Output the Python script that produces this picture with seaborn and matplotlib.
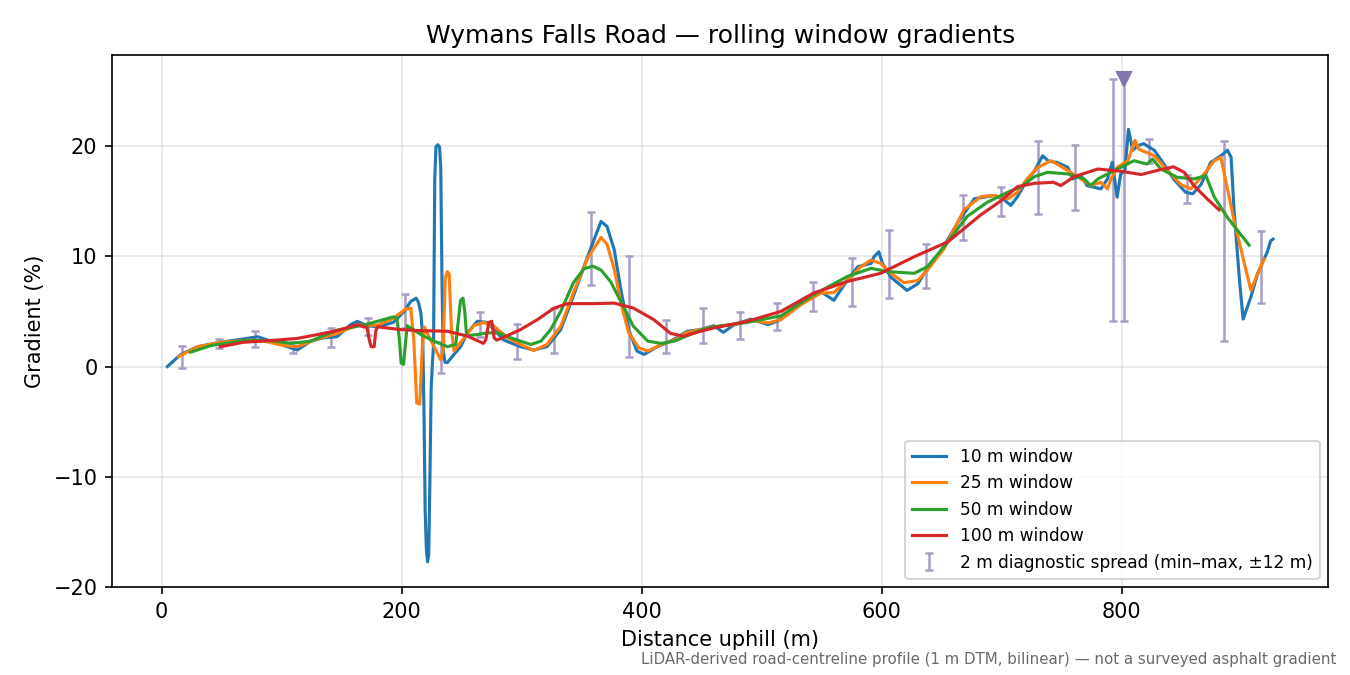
import matplotlib
matplotlib.use("Agg")
import matplotlib.pyplot as plt
import numpy as np
import pandas as pd
import seaborn as sns

# distances (m) and gradients (%)
x10 = [4.7, 16, 30, 49, 68, 80, 91, 102, 113, 124, 135, 146, 157.5, 163, 171, 180, 193, 202, 207.5, 212,
       214, 216, 217.5, 218.5, 219.5, 220.5, 221.5, 222.5, 223.5, 224.5, 225.5, 226.5, 227.5, 228.5, 230,
       231.5, 232.5, 233.5, 234.5, 236, 238, 242, 249, 255, 263, 271, 277, 285, 299, 310, 321, 332.5, 343,
       355, 366, 371, 377, 382.5, 389, 396, 402, 413, 424, 438, 449, 460, 468, 477, 491, 505, 513, 527, 538,
       549, 560, 571, 580, 591, 593.5, 597.5, 600.5, 607.5, 621, 630, 638, 649, 663, 677, 693.5, 702, 707.5,
       713, 721, 727, 734, 739, 746, 755, 759, 766, 771, 782.5, 788, 792, 796, 799, 802.5, 805.5, 809, 813,
       818, 827, 835, 843, 853, 859, 866, 874, 882.5, 888, 891, 893.5, 898, 901, 907.5, 913, 921, 924, 926]
g10 = [0.0, 1.1, 1.8, 2.2, 2.5, 2.7, 2.3, 1.9, 1.5, 2.3, 2.6, 2.7, 3.8, 4.1, 3.7, 3.6, 4.0, 5.0, 5.9, 6.2,
       5.8, 4.8, 2.5, -4.0, -13.0, -16.5, -17.7, -17.0, -10.0, -2.0, 0.2, 2.0, 17.0, 19.9, 20.1,
       19.9, 18.0, 8.0, 1.5, 0.4, 0.35, 0.9, 1.8, 3.1, 4.1, 4.0, 3.35, 2.4, 1.8, 1.5, 1.8, 3.35, 6.4,
       10.0, 13.15, 12.7, 10.6, 7.0, 3.35, 1.4, 1.1, 1.8, 2.3, 3.2, 3.35, 3.7, 3.1, 3.8, 4.3, 3.8, 4.1, 5.3, 6.1,
       6.8, 6.0, 7.8, 9.05, 9.35, 9.95, 10.4, 9.35, 8.1, 6.9, 7.5, 8.9, 10.4, 13.0, 15.2, 15.5, 15.1, 14.6,
       15.4, 16.9, 17.7, 19.1, 18.6, 18.5, 18.05, 17.0, 17.3, 16.4, 16.1, 17.0, 18.5, 15.35, 17.45, 17.75, 21.5, 19.6, 20.0,
       20.2, 19.6, 18.35, 17.0, 15.8, 15.65, 16.5, 18.5, 19.1, 19.6, 18.95, 14.1, 7.8, 4.3, 6.3, 8.4, 10.35, 11.4, 11.55]

x25 = [14, 30, 49, 74, 85, 102, 113, 127, 146, 163, 180, 193.5, 203, 207.5, 210, 212.5, 215, 217, 218.6,
       225, 232.5, 234.5, 236.2, 238, 239.5, 241.4, 243.6, 252, 260, 268, 277, 288, 299, 310, 321, 332.5,
       343, 355, 366, 371, 377, 382.5, 389, 397.5, 405, 416, 427, 438, 449, 460, 477, 491, 505, 516, 532.5,
       549, 560, 571, 582.5, 591, 599, 607.5, 618.5, 630, 638, 652, 668.5, 682.5, 693.5, 705, 713, 721, 730,
       741, 746, 755, 766, 774, 782.5, 788, 791, 796, 805, 811, 814, 827, 838, 849, 857.5, 868.5, 877, 882.5,
       893.5, 907.5, 913, 918.5]
g25 = [0.9, 1.8, 2.2, 2.4, 2.3, 1.9, 1.8, 2.4, 3.0, 3.75, 3.75, 4.4, 5.2, 5.3, 2.5, -3.3, -3.4, 1.5, 3.6,
       2.2, 0.6, 1.5, 8.0, 8.6, 8.4, 3.35, 1.4, 2.6, 3.7, 4.0, 3.65, 2.6, 2.0, 1.45, 2.0, 3.65,
       6.7, 9.85, 11.7, 11.1, 8.85, 5.8, 3.1, 1.7, 1.4, 2.0, 2.4, 3.1, 3.35, 3.6, 3.8, 4.2, 3.95, 4.25, 5.6,
       6.65, 6.7, 7.8, 9.05, 9.65, 9.35, 8.45, 7.6, 7.8, 8.75, 10.7, 14.2, 15.4, 15.5, 15.2, 15.8, 17.0, 18.05,
       18.65, 18.35, 17.75, 17.0, 16.4, 16.7, 16.1, 17.0, 18.05, 18.65, 20.5, 19.7, 19.1, 17.75, 16.5, 16.1, 17.45, 18.65, 18.95,
       13.2, 6.9, 8.4, 9.75]

x50 = [24, 41, 68, 91, 107.5, 124, 146, 168, 193, 196, 198, 199.5, 201.5, 203, 204.5, 216, 227, 238, 245,
       247.5, 249, 251, 252.5, 254, 263, 271, 280, 288, 299, 307.5, 316, 324, 332.5, 343, 351.7, 359, 366,
       374, 382.5, 393, 405, 416, 427, 438, 449, 460, 488, 516, 543, 571, 591, 605, 627, 638, 655, 671, 688,
       705, 716, 727, 738, 755, 768.5, 774, 780, 793.5, 810, 821, 825.5, 832.5, 846, 860, 870, 877, 888, 906]
g50 = [1.3, 1.9, 2.35, 2.35, 2.1, 2.3, 3.3, 3.75, 4.5, 4.4, 2.5, 0.3, 0.2, 2.0, 3.7, 2.9, 2.3, 1.8, 2.0,
       4.5, 6.0, 6.2, 5.0, 2.8, 2.9, 3.05, 3.05, 2.7, 2.3, 2.0, 2.3, 3.35, 5.0, 7.6, 8.85, 9.1, 8.75,
       7.7, 5.9, 3.65, 2.3, 2.1, 2.3, 2.8, 3.3, 3.6, 4.0, 4.6, 6.5, 8.15, 8.9, 8.6, 8.45, 9.05, 11.3, 13.6, 14.9,
       15.8, 16.3, 17.2, 17.6, 17.45, 17.0, 16.4, 17.0, 17.75, 18.65, 18.35, 18.8, 17.9, 17.15, 17.0, 17.3, 15.35, 13.5, 11.0]

x100 = [49, 68, 96, 113, 130, 146, 163, 168, 171, 173, 174.5, 177, 178.5, 180, 199, 216, 238, 255, 268,
        270, 272.5, 275, 277, 279, 283, 299, 313, 327, 338, 360, 377, 393, 410, 424, 435, 449, 460, 488, 516,
        543, 571, 599, 627, 655, 682.5, 699, 713, 727, 743, 749, 752, 760, 780, 799, 816, 832.5, 843, 852,
        860, 871, 881]
g100 = [1.8, 2.2, 2.4, 2.55, 2.9, 3.25, 3.8, 3.6, 3.55, 2.4, 1.8, 1.8, 3.3, 3.6, 3.35, 3.25, 3.2, 2.75, 2.1,
        2.4, 4.0, 4.1, 2.6, 2.4, 2.55, 3.35, 4.25, 5.3, 5.7, 5.7, 5.75, 5.3, 4.25, 3.0, 2.75, 3.2, 3.5, 4.1, 5.0,
        6.65, 7.7, 8.45, 9.95, 11.3, 13.75, 15.0, 16.3, 16.6, 16.7, 16.4, 16.6, 17.2, 17.9, 17.7, 17.4, 17.85, 18.1, 17.6,
        16.4, 15.2, 14.2]

# 2 m diagnostic spread: min and max within +-12 m
spread_x = [16.7, 47.5, 78, 109, 141, 172, 202.5, 233, 265, 296, 327, 357.5, 389, 420, 451, 482, 513, 543,
            575, 606, 637, 668, 699, 730, 761, 792.5, 801.5, 823, 854, 885, 916]
spread_lo = [-0.1, 1.7, 1.8, 1.2, 1.8, 2.9, 3.5, -0.6, 2.7, 0.7, 1.2, 7.4, 0.9, 1.2, 2.1, 2.5, 3.3, 5.0,
             5.5, 6.2, 7.1, 11.5, 13.6, 13.8, 14.2, 4.1, 4.1, 18.4, 14.8, 2.3, 5.8]
spread_hi = [1.9, 2.5, 3.2, 2.2, 3.5, 4.4, 6.6, 2.2, 4.9, 3.9, 5.3, 14.0, 10.0, 4.2, 5.3, 4.9, 5.8, 7.7,
             9.8, 12.4, 11.1, 15.5, 16.3, 20.4, 20.1, 26.1, 26.1, 20.6, 17.4, 20.4, 12.3]
flag_x, flag_y = 801.5, 26.1

series = [("10 m window", x10, g10), ("25 m window", x25, g25),
          ("50 m window", x50, g50), ("100 m window", x100, g100)]
colors = sns.color_palette("tab10", 4)

fig, ax = plt.subplots(figsize=(9, 4.5), dpi=150)
fig.subplots_adjust(left=0.083, right=0.984, top=0.918, bottom=0.13)

for (label, xs, gs), c in zip(series, colors):
    df = pd.DataFrame({"dist": xs, "grad": gs})
    sns.lineplot(data=df, x="dist", y="grad", ax=ax, color=c, linewidth=1.5,
                 label=label, estimator=None, sort=False, zorder=2)

lo = np.array(spread_lo)
hi = np.array(spread_hi)
mid = (lo + hi) / 2
ax.errorbar(spread_x, mid, yerr=(hi - lo) / 2, fmt="none", ecolor="#a99dc7",
            elinewidth=1.2, capsize=2, capthick=1.2, zorder=1.5,
            label="2 m diagnostic spread (min\u2013max, \u00b112 m)")
ax.plot([flag_x], [flag_y], marker="v", markersize=7, color="#8474ad", linestyle="none", zorder=3)

ax.set_ylim(-20, 28.2)
ax.grid(True, alpha=0.3)
ax.set_xlabel("Distance uphill (m)")
ax.set_ylabel("Gradient (%)")
ax.set_title("Wymans Falls Road \u2014 rolling window gradients", fontsize=12)
ax.legend(loc="lower right", fontsize=8.2)

fig.text(0.99, 0.012, "LiDAR-derived road-centreline profile (1 m DTM, bilinear) \u2014 not a surveyed asphalt gradient",
         ha="right", va="bottom", fontsize=7.2, color="dimgray")

fig.savefig("out.png", dpi=150)
